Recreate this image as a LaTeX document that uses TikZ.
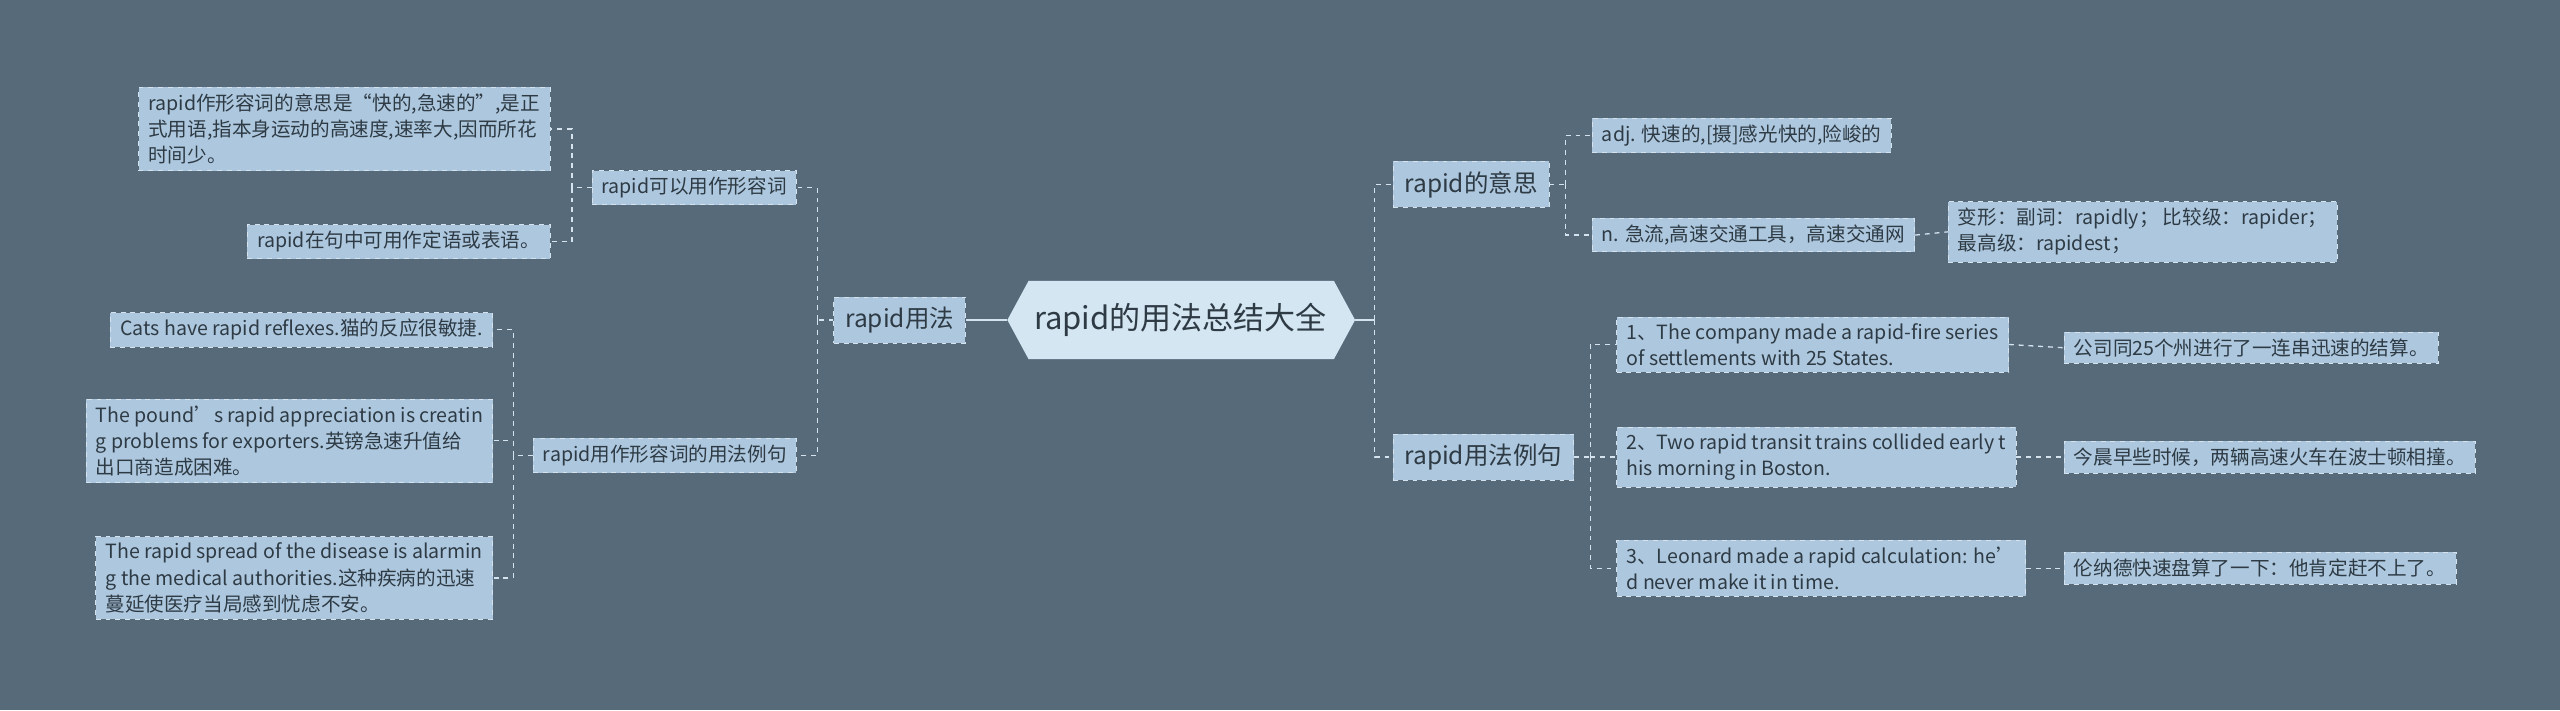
\documentclass[tikz,border=0pt]{standalone}
\usepackage{fontspec}
\setmainfont{Noto Sans CJK SC}
\definecolor{bg}{HTML}{566A7A}
\definecolor{boxf}{HTML}{ADC8DE}
\definecolor{rootf}{HTML}{D3E6F2}
\definecolor{txt}{HTML}{2E3A44}
\definecolor{ln}{HTML}{D5E3EE}
\newcommand{\apos}{\char39\relax}
\begin{document}
\begin{tikzpicture}[x=1pt,y=-1pt,
  leaf/.style={draw=ln,dashed,fill=boxf,text=txt,font=\fontsize{12}{16}\selectfont,align=left,inner xsep=6pt,inner ysep=4pt},
  mid/.style={draw=ln,dashed,fill=boxf,text=txt,font=\fontsize{15}{18}\selectfont,inner xsep=7pt,inner ysep=6pt},
  con/.style={draw=ln,dashed,line width=0.8pt}]
\fill[bg] (0,0) rectangle (1568,435);
\useasboundingbox (0,0) rectangle (1568,435);
% root
\fill[rootf] (617,196)--(630,172)--(817,172)--(830,196)--(817,220)--(630,220)--cycle;
\node[text=txt,font=\fontsize{19}{22}\selectfont] (root) at (723,196) {rapid的用法总结大全};
\coordinate (rootE) at (830,196); \coordinate (rootW) at (617,196);
% left
\node[mid] (L) at (551,196) {rapid用法};
\node[leaf,anchor=east] (L1) at (488,115) {rapid可以用作形容词};
\node[leaf,anchor=east] (L11) at (337,79) {rapid作形容词的意思是“快的,急速的”,是正\\式用语,指本身运动的高速度,速率大,因而所花\\时间少。};
\node[leaf,anchor=east] (L12) at (337,148) {rapid在句中可用作定语或表语。};
\node[leaf,anchor=east] (L2) at (488,279) {rapid用作形容词的用法例句};
\node[leaf,anchor=east] (L21) at (302,202) {Cats have rapid reflexes.猫的反应很敏捷.};
\node[leaf,anchor=east] (L22) at (302,270) {The pound\apos s rapid appreciation is creatin\\g problems for exporters.英镑急速升值给\\出口商造成困难。};
\node[leaf,anchor=east] (L23) at (302,354) {The rapid spread of the disease is alarmin\\g the medical authorities.这种疾病的迅速\\蔓延使医疗当局感到忧虑不安。};
% right
\node[mid,anchor=west] (R1) at (853,113) {rapid的意思};
\node[leaf,anchor=west] (R11) at (975,83) {adj. 快速的,[摄]感光快的,险峻的};
\node[leaf,anchor=west] (R12) at (975,144) {n. 急流,高速交通工具，高速交通网};
\node[leaf,anchor=west] (R121) at (1193,142) {变形：副词：rapidly；  比较级：rapider；\\最高级：rapidest；};
\node[mid,anchor=west] (R2) at (853,280) {rapid用法例句};
\node[leaf,anchor=west] (R21) at (990,211) {1、The company made a rapid-fire series\\of settlements with 25 States.};
\node[leaf,anchor=west] (R211) at (1264,213) {公司同25个州进行了一连串迅速的结算。};
\node[leaf,anchor=west] (R22) at (990,280) {2、Two rapid transit trains collided early t\\his morning in Boston.};
\node[leaf,anchor=west] (R221) at (1264,280) {今晨早些时候，两辆高速火车在波士顿相撞。};
\node[leaf,anchor=west] (R23) at (990,348) {3、Leonard made a rapid calculation: he\apos\\d never make it in time.};
\node[leaf,anchor=west] (R231) at (1264,348) {伦纳德快速盘算了一下：他肯定赶不上了。};
% connectors
\draw[ln,line width=0.8pt] (rootE) -- ++(12,0) coordinate (rj);
\draw[con] (rj) |- (R1.west); \draw[con] (rj) |- (R2.west);
\draw[ln,line width=0.8pt] (rootW) -- (L.east);
\draw[con] (L.west) -- ++(-10,0) coordinate (lj);
\draw[con] (lj) |- (L1.east); \draw[con] (lj) |- (L2.east);
\draw[con] (L1.west) -- ++(-12,0) coordinate (l1j);
\draw[con] (l1j) |- (L11.east); \draw[con] (l1j) |- (L12.east);
\draw[con] (L2.west) -- ++(-12,0) coordinate (l2j);
\draw[con] (l2j) |- (L21.east); \draw[con] (l2j) |- (L22.east); \draw[con] (l2j) |- (L23.east);
\draw[con] (R1.east) -- ++(10,0) coordinate (r1j);
\draw[con] (r1j) |- (R11.west); \draw[con] (r1j) |- (R12.west);
\draw[con] (R12.east) -- (R121.west);
\draw[con] (R2.east) -- ++(10,0) coordinate (r2j);
\draw[con] (r2j) |- (R21.west); \draw[con] (r2j) |- (R22.west); \draw[con] (r2j) |- (R23.west);
\draw[con] (R21.east) -- (R211.west);
\draw[con] (R22.east) -- (R221.west);
\draw[con] (R23.east) -- (R231.west);
\end{tikzpicture}
\end{document}
